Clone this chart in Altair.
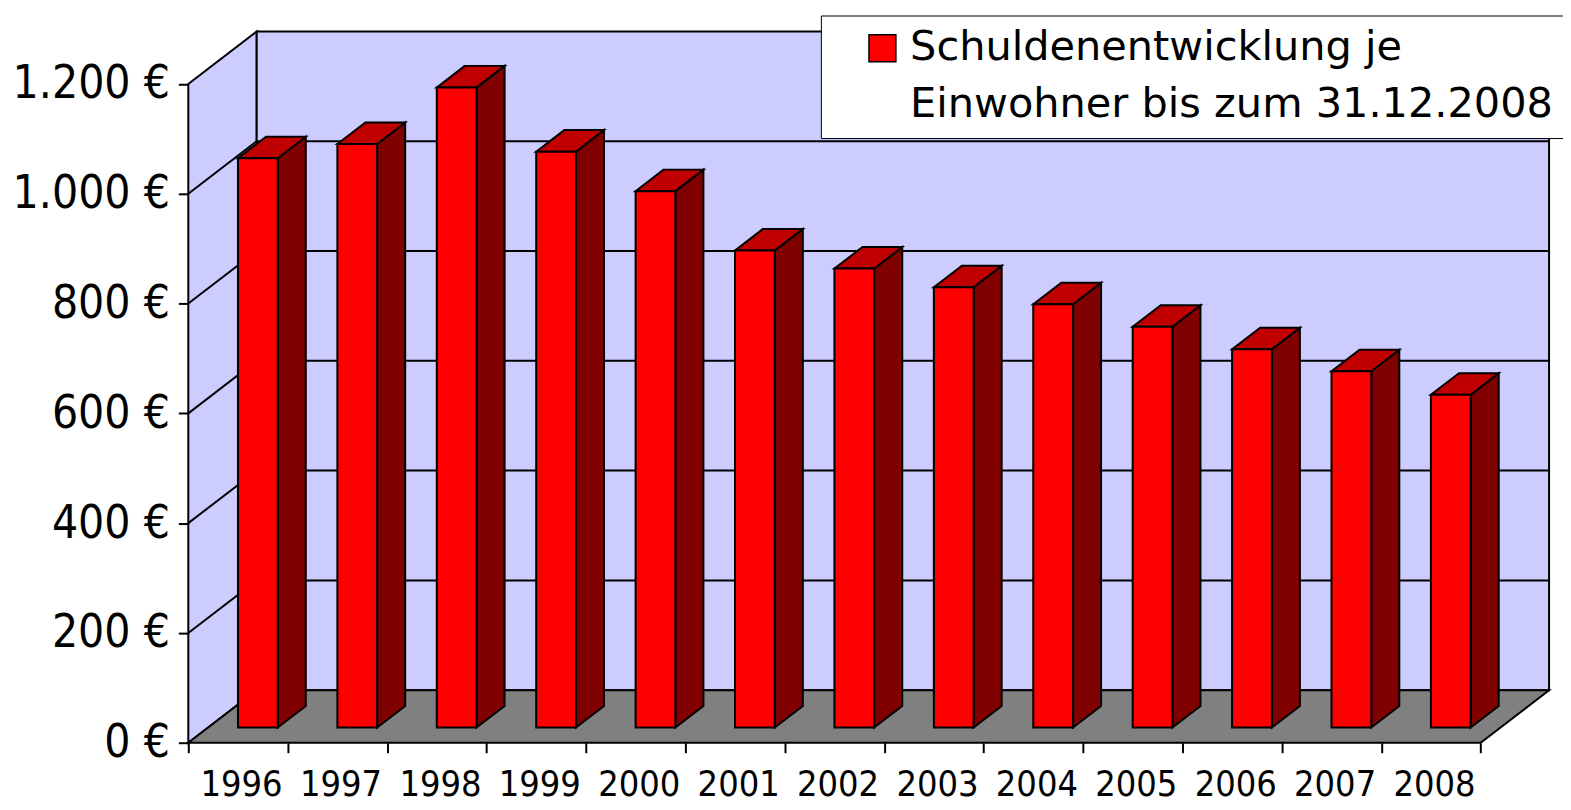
import json
import altair as alt
import pandas as pd

# ---- data ----
years = ["1996", "1997", "1998", "1999", "2000", "2001", "2002",
         "2003", "2004", "2005", "2006", "2007", "2008"]
values = [1037, 1063, 1166, 1049, 977, 869, 836, 802, 771, 730, 689, 649, 606]
y_ticks = [0, 200, 400, 600, 800, 1000, 1200]
legend_lines = ["Schuldenentwicklung je", "Einwohner bis zum 31.12.2008"]

# ---- 3D geometry (data units) ----
n = len(years)
DX = 0.688          # depth shift in category units
DY = 95.7           # depth shift in euro units
F0, F1 = 0.29, 0.70  # bar front / back depth fractions
BAR_L, BAR_R = 0.3, 0.7
YMAX = 1200

W, H = 1366, 714

FONT_AX = "DejaVu Sans Condensed, DejaVu Sans"
FONT_LEG = "DejaVu Sans"
LAV = "#CCCCFF"
SW = 2

xs = alt.Scale(domain=[0, n + DX], nice=False, zero=False)
ys = alt.Scale(domain=[0, YMAX + DY], nice=False, zero=False)

x_axis = alt.Axis(
    values=list(range(n + 1)),
    labelExpr=f"({json.dumps(years)})[datum.value] || ''",
    labelOffset=53, labelAlign="center", labelBaseline="top",
    labelPadding=15, labelFont=FONT_AX, labelFontSize=36, labelColor="black",
    labelOverlap=False, labelFlush=False, labelBound=False,
    tickSize=10, tickColor="black", tickWidth=SW,
    domain=False, grid=False, title=None,
)
y_axis = alt.Axis(
    values=y_ticks,
    labelExpr="replace(format(datum.value, ',d'), ',', '.') + ' €'",
    labelPadding=9, labelFont=FONT_AX, labelFontSize=46, labelColor="black",
    labelOverlap=False, labelFlush=False,
    tickSize=10, tickColor="black", tickWidth=SW,
    domain=False, grid=False, title=None,
)

X = alt.X("x:Q", scale=xs, axis=x_axis)
Y = alt.Y("y:Q", scale=ys, axis=y_axis)

# walls and floor
left_wall = pd.DataFrame({"x": [0, DX], "y": [0, DY], "y2": [YMAX, YMAX + DY]})
back_wall = pd.DataFrame({"x": [DX], "x2": [n + DX], "y": [DY], "y2": [YMAX + DY]})
floor = pd.DataFrame({"y": [0, DY], "x": [0, DX], "x2": [n, n + DX]})
grid_back = pd.DataFrame({"x": DX, "x2": n + DX, "y": [v + DY for v in y_ticks[1:-1]]})
grid_left = pd.DataFrame({"x": 0.0, "x2": DX, "y": y_ticks[1:-1],
                          "y2": [v + DY for v in y_ticks[1:-1]]})

# bars
front_rows, side_rows, top_rows = [], [], []
for i, (yr, v) in enumerate(zip(years, values)):
    front_rows.append({"year": yr, "series": legend_lines[0],
                       "x": i + BAR_L + F0 * DX, "x2": i + BAR_R + F0 * DX,
                       "y": F0 * DY, "y2": v + F0 * DY})
    for f in (F0, F1):
        side_rows.append({"year": yr, "x": i + BAR_R + f * DX,
                          "y": f * DY, "y2": v + f * DY})
        top_rows.append({"year": yr, "y": v + f * DY,
                         "x": i + BAR_L + f * DX, "x2": i + BAR_R + f * DX})
front = pd.DataFrame(front_rows)
side = pd.DataFrame(side_rows)
top = pd.DataFrame(top_rows)

legend = alt.Legend(
    title=None, orient="none", legendX=635, legendY=-16,
    symbolType="square", symbolSize=729, symbolStrokeWidth=1.5,
    symbolOffset=29, labelOffset=7,
    labelFont=FONT_LEG, labelFontSize=41.6, labelColor="black",
    labelLimit=0, rowPadding=14,
    padding=12, fillColor="white", strokeColor="black",
)

l_left = alt.Chart(left_wall).mark_area(fill=LAV, stroke="black", strokeWidth=SW, orient="vertical").encode(
    x=X, y=Y, y2="y2")
l_back = alt.Chart(back_wall).mark_rect(fill=LAV, stroke="black", strokeWidth=SW).encode(
    x=X, x2="x2", y=Y, y2="y2")
l_floor = alt.Chart(floor).mark_area(fill="#808080", stroke="black", strokeWidth=SW, orient="horizontal").encode(
    y=Y, x=X, x2="x2")
l_gb = alt.Chart(grid_back).mark_rule(color="black", strokeWidth=SW).encode(x=X, x2="x2", y=Y)
l_gl = alt.Chart(grid_left).mark_rule(color="black", strokeWidth=SW).encode(x=X, x2="x2", y=Y, y2="y2")
l_side = alt.Chart(side).mark_area(fill="#800000", stroke="black", strokeWidth=SW, orient="vertical").encode(
    x=X, y=Y, y2="y2", detail="year:N")
l_top = alt.Chart(top).mark_area(fill="#C00000", stroke="black", strokeWidth=SW, orient="horizontal").encode(
    y=Y, x=X, x2="x2", detail="year:N")
l_front = alt.Chart(front).mark_rect(strokeWidth=SW, opacity=1).encode(
    x=X, x2="x2", y=Y, y2="y2",
    color=alt.Color("series:N",
                    scale=alt.Scale(domain=legend_lines, range=["#FF0000", "rgba(0,0,0,0)"]),
                    legend=legend),
    stroke=alt.Stroke("series:N",
                      scale=alt.Scale(domain=legend_lines, range=["#000000", "rgba(0,0,0,0)"]),
                      legend=legend),
)

chart = alt.layer(l_left, l_back, l_floor, l_gb, l_gl, l_side, l_top, l_front).properties(
    width=W, height=H,
    padding={"left": 181, "top": 22, "right": 14, "bottom": 64},
    autosize=alt.AutoSizeParams(type="none"),
    background="white",
).configure_view(stroke=None)

chart.save("out.html", embed_options={"renderer": "svg", "actions": False})
